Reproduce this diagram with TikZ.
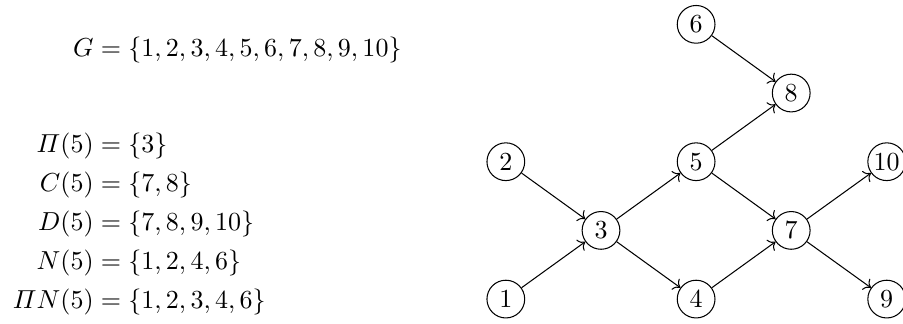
\documentclass[tikz,border=0pt]{standalone}
\usepackage{amsmath}
\usepackage{tikz}
\usetikzlibrary{positioning,arrows.meta}

\begin{document}
\begin{tikzpicture}[auto]
\useasboundingbox (0,0) rectangle (12.2,4.365);
\tikzset{vertex/.style={draw, circle, minimum size=0.51cm, inner sep=0pt}}

\node (sets) at (2.80,1.98) {$\begin{aligned}
G &= \{1,2,3,4,5,6,7,8,9,10\}\\[22pt]
\varPi(5) &= \{3\}\\
C(5) &= \{7,8\}\\
D(5) &= \{7,8,9,10\}\\
N(5) &= \{1,2,4,6\}\\
\varPi N(5) &= \{1,2,3,4,6\}
\end{aligned}$};

\node[vertex] (v1) at (6.834,0.324) {1};
\node[vertex] (v2) at (6.834,2.180) {2};
\node[vertex] (v3) at (8.120,1.252) {3};
\node[vertex] (v4) at (9.405,0.324) {4};
\node[vertex] (v5) at (9.405,2.180) {5};
\node[vertex] (v6) at (9.405,4.036) {6};
\node[vertex] (v7) at (10.69,1.252) {7};
\node[vertex] (v8) at (10.69,3.108) {8};
\node[vertex] (v9) at (11.98,0.324) {9};
\node[vertex] (v10) at (11.98,2.180) {10};

\draw[->] (v1) -- (v3);
\draw[->] (v2) -- (v3);
\draw[->] (v3) -- (v4);
\draw[->] (v3) -- (v5);
\draw[->] (v4) -- (v7);
\draw[->] (v5) -- (v7);
\draw[->] (v5) -- (v8);
\draw[->] (v6) -- (v8);
\draw[->] (v7) -- (v9);
\draw[->] (v7) -- (v10);

\end{tikzpicture}
\end{document}
